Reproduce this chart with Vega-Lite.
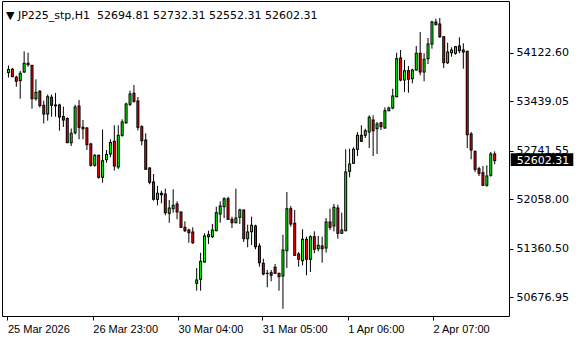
{
  "$schema": "https://vega.github.io/schema/vega-lite/v6.json",
  "width": 507,
  "height": 315,
  "autosize": "none",
  "padding": {"left": 2, "top": 1, "right": 71, "bottom": 24},
  "background": "white",
  "title": {
    "text": "▼ JP225_stp,H1\u00a0\u00a052694.81 52732.31 52552.31 52602.31",
    "anchor": "start",
    "frame": "group",
    "offset": 0,
    "baseline": "alphabetic",
    "dx": 4,
    "dy": 29,
    "font": "DejaVu Sans",
    "fontSize": 11,
    "fontWeight": "normal",
    "color": "black"
  },
  "config": {
    "view": {"stroke": "black", "strokeWidth": 1},
    "axis": {"grid": false, "domain": false, "tickColor": "black", "labelColor": "black", "title": null}
  },
  "data": {
    "values": [
      {"i":0,"o":53843.7,"h":53942.3,"l":53773.2,"c":53885.9},
      {"i":1,"o":53888.8,"h":53907.1,"l":53780.3,"c":53784.5},
      {"i":2,"o":53776.1,"h":53798.6,"l":53643.6,"c":53719.7},
      {"i":3,"o":53728.2,"h":53864.8,"l":53474.6,"c":53832.4},
      {"i":4,"o":53850.7,"h":54142.3,"l":53836.6,"c":53973.3},
      {"i":5,"o":53973.3,"h":54122.6,"l":53925.4,"c":53953.6},
      {"i":6,"o":53945.1,"h":53949.3,"l":53333.7,"c":53474.6},
      {"i":7,"o":53474.6,"h":53747.9,"l":53446.4,"c":53564.8},
      {"i":8,"o":53578.8,"h":53597.2,"l":53350.6,"c":53378.8},
      {"i":9,"o":53381.6,"h":53446.4,"l":53125.2,"c":53259.1},
      {"i":10,"o":53259.1,"h":53533.8,"l":53164.7,"c":53502.8},
      {"i":11,"o":53494.3,"h":53533.8,"l":53221.0,"c":53381.6},
      {"i":12,"o":53385.8,"h":53554.9,"l":53221.0,"c":53374.6},
      {"i":13,"o":53385.8,"h":53404.2,"l":53023.8,"c":53216.8},
      {"i":14,"o":53223.8,"h":53361.9,"l":53075.9,"c":53174.5},
      {"i":15,"o":53195.7,"h":53212.6,"l":52850.5,"c":52854.8},
      {"i":16,"o":52854.8,"h":53054.8,"l":52808.3,"c":52987.2},
      {"i":17,"o":52995.6,"h":53390.1,"l":52970.3,"c":53357.7},
      {"i":18,"o":53371.8,"h":53456.3,"l":52902.7,"c":53071.7},
      {"i":19,"o":53071.7,"h":53174.5,"l":52902.7,"c":53052.0},
      {"i":20,"o":53061.8,"h":53075.9,"l":52751.9,"c":52826.6},
      {"i":21,"o":52836.5,"h":52854.8,"l":52516.7,"c":52536.4},
      {"i":22,"o":52536.4,"h":52695.6,"l":52516.7,"c":52677.3},
      {"i":23,"o":52677.3,"h":52685.7,"l":52347.6,"c":52367.4},
      {"i":24,"o":52367.4,"h":53040.7,"l":52291.3,"c":52601.2},
      {"i":25,"o":52615.3,"h":52751.9,"l":52573.0,"c":52688.5},
      {"i":26,"o":52695.6,"h":52902.7,"l":52649.1,"c":52857.6},
      {"i":27,"o":52874.5,"h":53099.9,"l":52463.2,"c":52526.5},
      {"i":28,"o":52512.5,"h":53099.9,"l":52484.3,"c":52959.0},
      {"i":29,"o":52959.0,"h":53184.4,"l":52939.3,"c":53146.4},
      {"i":30,"o":53136.5,"h":53418.2,"l":53118.2,"c":53399.9},
      {"i":31,"o":53395.7,"h":53587.3,"l":53371.8,"c":53540.8},
      {"i":32,"o":53550.7,"h":53667.6,"l":53418.2,"c":53438.0},
      {"i":33,"o":53442.2,"h":53498.5,"l":53026.6,"c":53071.7},
      {"i":34,"o":53080.2,"h":53099.9,"l":52818.1,"c":52882.9},
      {"i":35,"o":52892.8,"h":52987.2,"l":52470.2,"c":52480.1},
      {"i":36,"o":52498.4,"h":52508.2,"l":52268.8,"c":52296.9},
      {"i":37,"o":52301.2,"h":52413.8,"l":52037.7,"c":52057.4},
      {"i":38,"o":52057.4,"h":52244.8,"l":51972.9,"c":52142.0},
      {"i":39,"o":52142.0,"h":52178.6,"l":52001.1,"c":52122.2},
      {"i":40,"o":52132.1,"h":52206.8,"l":51832.1,"c":51868.7},
      {"i":41,"o":51860.2,"h":52047.6,"l":51727.8,"c":51934.9},
      {"i":42,"o":51925.0,"h":52198.3,"l":51868.7,"c":51972.9},
      {"i":43,"o":51991.2,"h":52029.3,"l":51775.7,"c":51878.5},
      {"i":44,"o":51878.5,"h":51885.6,"l":51653.1,"c":51663.0},
      {"i":45,"o":51663.0,"h":51747.5,"l":51596.8,"c":51615.1},
      {"i":46,"o":51625.0,"h":51643.3,"l":51446.1,"c":51586.9},
      {"i":47,"o":51596.8,"h":51663.0,"l":51427.8,"c":51446.1},
      {"i":48,"o":50874.1,"h":51089.7,"l":50769.9,"c":50920.6},
      {"i":49,"o":50930.5,"h":51305.2,"l":50769.9,"c":51184.1},
      {"i":50,"o":51174.2,"h":51578.5,"l":51164.3,"c":51540.5},
      {"i":51,"o":51530.6,"h":51615.1,"l":51427.8,"c":51558.8},
      {"i":52,"o":51530.6,"h":51709.5,"l":51512.3,"c":51625.0},
      {"i":53,"o":51615.1,"h":51953.2,"l":51606.7,"c":51868.7},
      {"i":54,"o":51850.4,"h":52029.3,"l":51727.8,"c":51963.1},
      {"i":55,"o":51953.2,"h":52085.6,"l":51794.0,"c":52065.9},
      {"i":56,"o":52065.9,"h":52094.1,"l":51765.8,"c":51775.7},
      {"i":57,"o":51775.7,"h":51812.3,"l":51653.1,"c":51727.8},
      {"i":58,"o":51727.8,"h":52206.8,"l":51719.4,"c":51794.0},
      {"i":59,"o":51803.9,"h":51925.0,"l":51709.5,"c":51906.7},
      {"i":60,"o":51906.7,"h":51913.8,"l":51455.9,"c":51502.4},
      {"i":61,"o":51502.4,"h":51699.6,"l":51381.3,"c":51596.8},
      {"i":62,"o":51601.0,"h":51812.3,"l":51413.7,"c":51691.2},
      {"i":63,"o":51681.3,"h":51699.6,"l":51353.1,"c":51389.7},
      {"i":64,"o":51399.6,"h":51437.6,"l":51108.0,"c":51164.3},
      {"i":65,"o":51155.9,"h":51220.7,"l":50986.8,"c":51005.1},
      {"i":66,"o":51015.0,"h":51061.5,"l":50817.8,"c":51012.2},
      {"i":67,"o":51023.5,"h":51061.5,"l":50902.3,"c":50986.8},
      {"i":68,"o":51099.5,"h":51146.0,"l":51005.1,"c":51015.0},
      {"i":69,"o":51015.0,"h":51023.5,"l":50769.9,"c":50967.1},
      {"i":70,"o":50977.0,"h":51558.8,"l":50516.3,"c":51343.2},
      {"i":71,"o":51333.4,"h":52160.3,"l":51089.7,"c":51925.0},
      {"i":72,"o":51925.0,"h":51963.1,"l":51671.5,"c":51709.5},
      {"i":73,"o":51719.4,"h":51906.7,"l":51258.7,"c":51268.6},
      {"i":74,"o":51286.9,"h":51315.1,"l":51108.0,"c":51212.2},
      {"i":75,"o":51192.5,"h":51634.8,"l":51127.7,"c":51494.0},
      {"i":76,"o":51494.0,"h":51530.6,"l":50986.8,"c":51212.2},
      {"i":77,"o":51212.2,"h":51550.3,"l":51033.3,"c":51530.6},
      {"i":78,"o":51530.6,"h":51606.7,"l":51296.7,"c":51353.1},
      {"i":79,"o":51361.5,"h":51540.5,"l":51324.9,"c":51409.4},
      {"i":80,"o":51399.6,"h":51530.6,"l":51164.3,"c":51361.5},
      {"i":81,"o":51371.4,"h":51794.0,"l":51305.2,"c":51737.7},
      {"i":82,"o":51737.7,"h":51925.0,"l":51625.0,"c":51663.0},
      {"i":83,"o":51681.3,"h":51991.2,"l":51606.7,"c":51944.7},
      {"i":84,"o":51934.9,"h":51981.4,"l":51502.4,"c":51578.5},
      {"i":85,"o":51578.5,"h":51868.7,"l":51568.6,"c":51625.0},
      {"i":86,"o":51615.1,"h":52761.8,"l":51606.7,"c":52442.0},
      {"i":87,"o":52451.9,"h":52770.2,"l":52367.4,"c":52554.7},
      {"i":88,"o":52564.6,"h":52790.0,"l":52554.7,"c":52761.8},
      {"i":89,"o":52761.8,"h":53005.5,"l":52667.4,"c":52959.0},
      {"i":90,"o":52959.0,"h":53099.9,"l":52864.6,"c":52874.5},
      {"i":91,"o":52959.0,"h":53052.0,"l":52921.0,"c":53023.8},
      {"i":92,"o":53005.5,"h":53240.8,"l":52780.1,"c":53212.6},
      {"i":93,"o":53174.5,"h":53240.8,"l":52667.4,"c":53023.8},
      {"i":94,"o":53052.0,"h":53146.4,"l":52695.6,"c":53118.2},
      {"i":95,"o":53136.5,"h":53146.4,"l":53033.7,"c":53080.2},
      {"i":96,"o":53061.8,"h":53353.4,"l":53052.0,"c":53305.6},
      {"i":97,"o":53305.6,"h":53361.9,"l":53297.1,"c":53343.6},
      {"i":98,"o":53343.6,"h":53615.5,"l":53325.3,"c":53512.6},
      {"i":99,"o":53502.8,"h":54122.6,"l":53494.3,"c":54038.1},
      {"i":100,"o":54047.9,"h":54160.6,"l":53719.7,"c":53738.0},
      {"i":101,"o":53738.0,"h":54019.8,"l":53569.0,"c":53869.0},
      {"i":102,"o":53869.0,"h":53935.2,"l":53559.1,"c":53747.9},
      {"i":103,"o":53756.3,"h":53897.2,"l":53691.5,"c":53878.9},
      {"i":104,"o":53878.9,"h":54217.0,"l":53869.0,"c":54114.1},
      {"i":105,"o":54114.1,"h":54414.2,"l":53804.2,"c":53850.7},
      {"i":106,"o":53850.7,"h":54114.1,"l":53719.7,"c":54029.6},
      {"i":107,"o":54038.1,"h":54329.7,"l":53963.4,"c":54245.2},
      {"i":108,"o":54245.2,"h":54573.4,"l":54178.9,"c":54555.1},
      {"i":109,"o":54555.1,"h":54601.6,"l":54508.6,"c":54517.0},
      {"i":110,"o":54526.9,"h":54611.4,"l":54329.7,"c":54348.0},
      {"i":111,"o":54348.0,"h":54352.0,"l":53907.1,"c":53981.7},
      {"i":112,"o":53981.7,"h":54263.5,"l":53963.4,"c":54132.5},
      {"i":113,"o":54122.6,"h":54198.7,"l":54066.3,"c":54160.6},
      {"i":114,"o":54114.1,"h":54217.0,"l":54094.4,"c":54207.1},
      {"i":115,"o":54217.0,"h":54339.5,"l":54114.1,"c":54150.8},
      {"i":116,"o":54160.6,"h":54255.0,"l":53897.2,"c":54132.5},
      {"i":117,"o":54142.3,"h":54150.8,"l":52780.1,"c":52967.5},
      {"i":118,"o":52977.3,"h":53005.5,"l":52620.9,"c":52751.9},
      {"i":119,"o":52733.6,"h":52742.1,"l":52442.0,"c":52480.1},
      {"i":120,"o":52488.5,"h":52516.7,"l":52385.7,"c":52423.7},
      {"i":121,"o":52432.2,"h":52526.5,"l":52244.8,"c":52254.7},
      {"i":122,"o":52254.7,"h":52536.4,"l":52234.9,"c":52385.7},
      {"i":123,"o":52395.5,"h":52723.8,"l":52375.8,"c":52695.6},
      {"i":124,"o":52694.81,"h":52732.31,"l":52552.31,"c":52602.31}
    ]
  },
  "layer": [
    {
      "mark": {"type": "rule", "color": "black", "strokeWidth": 1},
      "encoding": {
        "x": {
          "field": "i", "type": "quantitative", "title": null,
          "scale": {"domain": [-0.375, 126.375], "nice": false, "zero": false},
          "axis": {
            "title": null,
            "values": [-0.25, 21.5, 43.25, 64.75, 86.5, 108.25],
            "labelExpr": "datum.value < 10 ? '25 Mar 2026' : datum.value < 30 ? '26 Mar 23:00' : datum.value < 50 ? '30 Mar 04:00' : datum.value < 75 ? '31 Mar 05:00' : datum.value < 95 ? '1 Apr 06:00' : '2 Apr 07:00'",
            "labelAlign": "left",
            "labelBaseline": "top",
            "labelFont": "Liberation Sans",
            "labelFontSize": 11,
            "labelPadding": 3,
            "labelFlush": false,
            "labelOverlap": false,
            "tickSize": 4,
            "domain": false,
            "grid": false
          }
        },
        "y": {
          "field": "l", "type": "quantitative", "title": null,
          "scale": {"domain": [50413.5, 54850.9], "nice": false, "zero": false},
          "axis": {
            "title": null,
            "orient": "right",
            "values": [54122.60, 53439.05, 52741.55, 52058.00, 51360.50, 50676.95],
            "format": ".2f",
            "labelFont": "DejaVu Sans",
            "labelFontSize": 11,
            "labelPadding": 3,
            "labelBaseline": "middle",
            "labelFlush": false,
            "labelOverlap": false,
            "tickSize": 4,
            "domain": false,
            "grid": false
          }
        },
        "y2": {"field": "h"}
      }
    },
    {
      "transform": [{"filter": "datum.c >= datum.o"}],
      "mark": {"type": "bar", "size": 3, "color": "black", "yOffset": 0.5, "y2Offset": -0.5},
      "encoding": {
        "x": {"field": "i", "type": "quantitative", "title": null},
        "y": {"field": "o", "type": "quantitative", "title": null},
        "y2": {"field": "c"}
      }
    },
    {
      "transform": [{"filter": "datum.c < datum.o"}],
      "mark": {"type": "bar", "size": 3, "color": "black", "yOffset": -0.5, "y2Offset": 0.5},
      "encoding": {
        "x": {"field": "i", "type": "quantitative", "title": null},
        "y": {"field": "o", "type": "quantitative", "title": null},
        "y2": {"field": "c"}
      }
    },
    {
      "transform": [{"filter": "datum.c - datum.o > 14"}],
      "mark": {"type": "bar", "size": 1, "color": "#00ff00", "yOffset": -0.5, "y2Offset": 0.5},
      "encoding": {
        "x": {"field": "i", "type": "quantitative", "title": null},
        "y": {"field": "o", "type": "quantitative", "title": null},
        "y2": {"field": "c"}
      }
    },
    {
      "transform": [{"filter": "datum.o - datum.c > 14"}],
      "mark": {"type": "bar", "size": 1, "color": "#ff0000", "yOffset": 0.5, "y2Offset": -0.5},
      "encoding": {
        "x": {"field": "i", "type": "quantitative", "title": null},
        "y": {"field": "o", "type": "quantitative", "title": null},
        "y2": {"field": "c"}
      }
    },
    {
      "data": {"values": [{"p": 52602.31}]},
      "mark": {"type": "rect", "color": "black", "clip": false, "xOffset": 1.7, "x2Offset": 64.3},
      "encoding": {
        "x": {"value": "width"},
        "x2": {"value": "width"},
        "y": {"datum": 52705.4, "type": "quantitative"},
        "y2": {"datum": 52526.5}
      }
    },
    {
      "data": {"values": [{"p": 52602.31}]},
      "mark": {"type": "text", "color": "white", "font": "DejaVu Sans", "fontSize": 11, "align": "left", "baseline": "middle", "clip": false, "dx": 7.7},
      "encoding": {
        "x": {"value": "width"},
        "y": {"field": "p", "type": "quantitative", "title": null},
        "text": {"field": "p", "type": "quantitative", "format": ".2f"}
      }
    }
  ]
}
